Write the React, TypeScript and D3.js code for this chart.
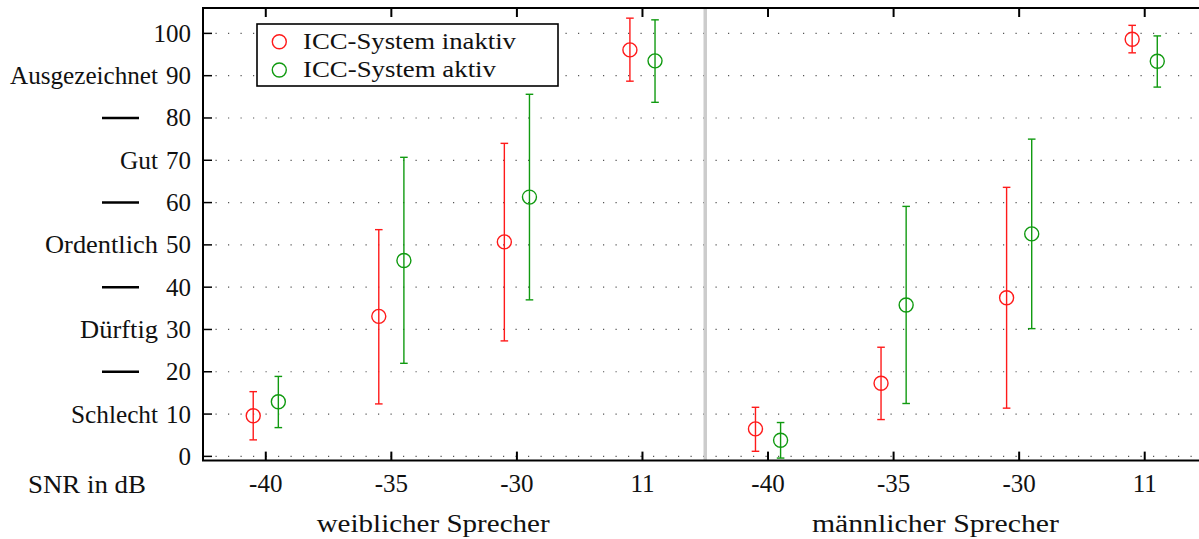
import React, { useEffect, useRef } from "react";
import * as d3 from "d3";

// SNR conditions, repeated for each speaker panel
const snrLabels = ["-40", "-35", "-30", "11", "-40", "-35", "-30", "11"];
const speakers = ["weiblicher Sprecher", "männlicher Sprecher"];
const seriesNames = ["ICC-System inaktiv", "ICC-System aktiv"];

// ICC-System inaktiv (red)
const inaktivMean = [9.6, 33.1, 50.7, 96.1, 6.5, 17.3, 37.5, 98.6];
const inaktivLow = [3.9, 12.4, 27.3, 88.7, 1.2, 8.7, 11.4, 95.4];
const inaktivHigh = [15.3, 53.6, 74.0, 103.6, 11.6, 25.8, 63.6, 101.9];

// ICC-System aktiv (green)
const aktivMean = [12.9, 46.3, 61.3, 93.5, 3.8, 35.8, 52.6, 93.4];
const aktivLow = [6.8, 22.0, 37.0, 83.7, -0.4, 12.5, 30.2, 87.3];
const aktivHigh = [18.9, 70.7, 85.6, 103.2, 8.0, 59.1, 75.0, 99.4];

// rating scale on the y axis
const yTicks = [0, 10, 20, 30, 40, 50, 60, 70, 80, 90, 100];
const ratingLabels = [
  { v: 90, t: "Ausgezeichnet" },
  { v: 70, t: "Gut" },
  { v: 50, t: "Ordentlich" },
  { v: 30, t: "Dürftig" },
  { v: 10, t: "Schlecht" },
];
const ratingBounds = [80, 60, 40, 20];

const FONT = "Liberation Serif, DejaVu Serif, serif";

// widths the labels take in the original (computer modern is wider than times)
const textWidths: Record<string, number> = {
  "Ausgezeichnet": 148,
  "Gut": 38,
  "Ordentlich": 113,
  "Dürftig": 78,
  "Schlecht": 87,
  "SNR in dB": 118,
  "weiblicher Sprecher": 233,
  "männlicher Sprecher": 247,
  "ICC-System inaktiv": 213,
  "ICC-System aktiv": 193,
};

const App = () => {
  const svgRef = useRef<SVGSVGElement>(null);

  useEffect(() => {
    const svg = d3.select(svgRef.current);
    svg.selectAll("*").remove();

    const left = 203, top = 8, bottom = 460.6;
    const x = d3.scaleLinear().domain([-0.5, 7.5]).range([left, 1207.5]);
    const y = d3.scaleLinear().domain([-1, 106]).range([bottom, top]);
    const right = x(7.5);

    const txt = (sel: any, size = 25) =>
      sel.style("font-family", FONT).style("font-size", `${size}px`).attr("fill", "#111");
    const fit = (sel: any) =>
      sel.attr("textLength", (d: any) => textWidths[typeof d === "string" ? d : d.t])
        .attr("lengthAdjust", "spacingAndGlyphs");

    // dotted grid
    svg.append("g")
      .selectAll("line")
      .data(yTicks)
      .join("line")
      .attr("x1", left).attr("x2", right)
      .attr("y1", d => y(d)).attr("y2", d => y(d))
      .attr("stroke", "#555")
      .attr("stroke-width", 1.2)
      .attr("stroke-dasharray", "1.2 11.3");

    // panel separator
    svg.append("line")
      .attr("x1", x(3.5)).attr("x2", x(3.5))
      .attr("y1", top).attr("y2", bottom)
      .attr("stroke", "#cccccc")
      .attr("stroke-width", 3.5);

    // frame
    svg.append("path")
      .attr("d", `M${right},${top}H${left}V${bottom}H${right}`)
      .attr("fill", "none")
      .attr("stroke", "black")
      .attr("stroke-width", 2);

    // y ticks + labels
    const yAxis = svg.append("g");
    yAxis.selectAll("line")
      .data(yTicks)
      .join("line")
      .attr("x1", left).attr("x2", left + 9)
      .attr("y1", d => y(d)).attr("y2", d => y(d))
      .attr("stroke", "black")
      .attr("stroke-width", 1.5);
    txt(yAxis.selectAll("text")
      .data(yTicks)
      .join("text")
      .attr("x", 191)
      .attr("y", d => y(d) + 8.5)
      .attr("text-anchor", "end"))
      .text(d => d);

    fit(txt(svg.append("g")
      .selectAll("text")
      .data(ratingLabels)
      .join("text")
      .attr("x", 158)
      .attr("y", d => y(d.v) + 8.5)
      .attr("text-anchor", "end")))
      .text(d => d.t);

    svg.append("g")
      .selectAll("line")
      .data(ratingBounds)
      .join("line")
      .attr("x1", 102).attr("x2", 139)
      .attr("y1", d => y(d)).attr("y2", d => y(d))
      .attr("stroke", "black")
      .attr("stroke-width", 2.5);

    // x ticks top and bottom
    const idx = d3.range(snrLabels.length);
    const xAxis = svg.append("g");
    xAxis.selectAll("line.b")
      .data(idx)
      .join("line")
      .attr("class", "b")
      .attr("x1", d => x(d)).attr("x2", d => x(d))
      .attr("y1", bottom).attr("y2", bottom - 9)
      .attr("stroke", "black").attr("stroke-width", 2);
    xAxis.selectAll("line.t")
      .data(idx)
      .join("line")
      .attr("class", "t")
      .attr("x1", d => x(d)).attr("x2", d => x(d))
      .attr("y1", top).attr("y2", top + 9)
      .attr("stroke", "black").attr("stroke-width", 2);
    txt(xAxis.selectAll("text")
      .data(idx)
      .join("text")
      .attr("x", d => x(d))
      .attr("y", 491.5)
      .attr("text-anchor", "middle"))
      .text(d => snrLabels[d]);

    fit(txt(svg.append("g")
      .selectAll("text")
      .data(speakers)
      .join("text")
      .attr("x", (d, i) => x(1.333 + i * 4))
      .attr("y", 531.5)
      .attr("text-anchor", "middle")))
      .text(d => d);

    fit(txt(svg.append("text")
      .datum("SNR in dB")
      .attr("x", 87).attr("y", 493)
      .attr("text-anchor", "middle")))
      .text("SNR in dB");

    // error bars + markers
    const series = [
      { mean: inaktivMean, low: inaktivLow, high: inaktivHigh, color: "#ff1a1a", off: -0.1 },
      { mean: aktivMean, low: aktivLow, high: aktivHigh, color: "#109a10", off: 0.1 },
    ];
    series.forEach(s => {
      const g = svg.append("g");
      const cx = (i: number) => x(i + s.off);
      g.selectAll("line.v")
        .data(idx)
        .join("line")
        .attr("class", "v")
        .attr("x1", cx).attr("x2", cx)
        .attr("y1", i => y(s.low[i])).attr("y2", i => y(s.high[i]))
        .attr("stroke", s.color).attr("stroke-width", 1.4);
      ["low", "high"].forEach(k => {
        g.selectAll(`line.${k}`)
          .data(idx)
          .join("line")
          .attr("class", k)
          .attr("x1", i => cx(i) - 3.8).attr("x2", i => cx(i) + 3.8)
          .attr("y1", i => y((s as any)[k][i])).attr("y2", i => y((s as any)[k][i]))
          .attr("stroke", s.color).attr("stroke-width", 1.4);
      });
      g.selectAll("circle")
        .data(idx)
        .join("circle")
        .attr("cx", cx)
        .attr("cy", i => y(s.mean[i]))
        .attr("r", 7)
        .attr("fill", "none")
        .attr("stroke", s.color)
        .attr("stroke-width", 1.4);
    });

    // legend
    const lg = svg.append("g");
    lg.append("rect")
      .attr("x", 257).attr("y", 24)
      .attr("width", 301).attr("height", 62)
      .attr("fill", "white")
      .attr("stroke", "black")
      .attr("stroke-width", 1.6);
    seriesNames.forEach((name, i) => {
      lg.append("circle")
        .attr("cx", 279.3).attr("cy", 41.7 + i * 28.3)
        .attr("r", 7)
        .attr("fill", "none")
        .attr("stroke", series[i].color)
        .attr("stroke-width", 1.4);
      fit(txt(lg.append("text")
        .datum(name)
        .attr("x", 303).attr("y", 48.5 + i * 28.3), 23))
        .text(name);
    });
  }, []);

  return (
    <svg
      ref={svgRef}
      width={1199}
      height={539}
      style={{ position: "absolute", left: 0, top: 0, background: "white" }}
    ></svg>
  );
};

export default App;
